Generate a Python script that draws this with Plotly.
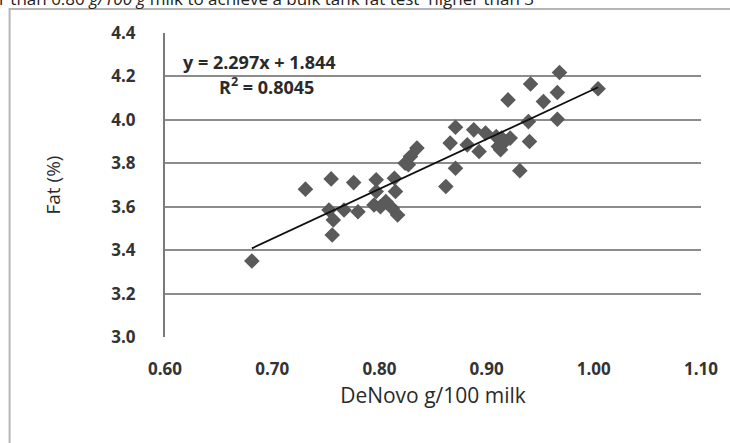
import numpy as np
import plotly.graph_objects as go

# Data
denovo = [0.681, 0.731, 0.755, 0.776, 0.753, 0.757, 0.756, 0.767, 0.780,
          0.797, 0.797, 0.795, 0.814, 0.815, 0.806, 0.812, 0.817, 0.801,
          0.827, 0.835, 0.829, 0.824, 0.871, 0.888, 0.866, 0.882, 0.893,
          0.871, 0.862, 0.899, 0.909, 0.968, 1.004, 0.941, 0.966, 0.920,
          0.953, 0.966, 0.939, 0.940, 0.931, 0.914, 0.922, 0.911, 0.917,
          0.913]
fat = [3.350, 3.681, 3.728, 3.711, 3.585, 3.539, 3.470, 3.585, 3.577,
       3.724, 3.670, 3.608, 3.731, 3.670, 3.624, 3.593, 3.562, 3.600,
       3.793, 3.870, 3.831, 3.800, 3.966, 3.954, 3.893, 3.885, 3.854,
       3.777, 3.693, 3.939, 3.923, 4.218, 4.143, 4.165, 4.126, 4.092,
       4.084, 4.003, 3.992, 3.900, 3.766, 3.916, 3.916, 3.877, 3.900,
       3.862]
slope, intercept = 2.297, 1.844
x_ticks = [0.60, 0.70, 0.80, 0.90, 1.00, 1.10]
y_ticks = [3.0, 3.2, 3.4, 3.6, 3.8, 4.0, 4.2, 4.4]

W, H = 730, 443
ml, mr, mt, mb = 165, 27, 33, 106
pw, ph = W - ml - mr, H - mt - mb

def px_x(p):
    return (p - ml) / pw

def px_y(p):
    return (H - mb - p) / ph

fig = go.Figure()
fig.add_trace(go.Scatter(
    x=denovo, y=fat, mode="markers",
    marker=dict(symbol="diamond", size=12, color="#5a5a5a",
                line=dict(width=0)),
    showlegend=False, hoverinfo="skip"))

tx = np.array([min(denovo), max(denovo)])
fig.add_trace(go.Scatter(
    x=tx, y=slope * tx + intercept, mode="lines",
    line=dict(color="#111111", width=1.8),
    showlegend=False, hoverinfo="skip"))

tick_font = dict(family="Open Sans", size=17, color="#333333", weight="bold")

fig.update_layout(
    width=W, height=H,
    margin=dict(l=ml, r=mr, t=mt, b=mb),
    paper_bgcolor="white", plot_bgcolor="white",
    xaxis=dict(range=[0.6, 1.1], tickvals=x_ticks,
               ticktext=[f"{v:.2f}" for v in x_ticks],
               showgrid=False, zeroline=False, showline=False,
               ticks="", tickfont=tick_font, ticklabelstandoff=20,
               title=dict(text="DeNovo g/100 milk",
                          font=dict(family="Open Sans", size=21, color="#2a2a2a"),
                          standoff=9)),
    yaxis=dict(range=[3.0, 4.4], tickvals=y_ticks,
               ticktext=[f"{v:.1f}" for v in y_ticks],
               showgrid=True, gridcolor="#8c8c8c", gridwidth=2,
               zeroline=False, showline=True, linecolor="#7a7a7a",
               linewidth=2, ticks="", tickfont=tick_font,
               ticklabelstandoff=24,
               title=dict(text="Fat (%)",
                          font=dict(family="Open Sans", size=19, color="#2a2a2a"),
                          standoff=46)),
)

fig.add_annotation(xref="paper", yref="paper", x=px_x(181), y=px_y(62),
                   xanchor="left", yanchor="middle", showarrow=False,
                   text="y = 2.297x + 1.844",
                   font=dict(family="Open Sans", size=18, color="#2a2a2a",
                             weight="bold"))
fig.add_annotation(xref="paper", yref="paper", x=px_x(217), y=px_y(86),
                   xanchor="left", yanchor="middle", showarrow=False,
                   text="R<sup>2</sup> = 0.8045",
                   font=dict(family="Open Sans", size=18, color="#2a2a2a",
                             weight="bold"))

# partially visible caption text at the top edge
fig.add_annotation(xref="paper", yref="paper", x=px_x(-4), y=px_y(-1),
                   xanchor="left", yanchor="middle", showarrow=False,
                   text="r than 0.80 <i>g/100 g</i> milk to achieve a bulk tank fat test  higher than 3",
                   font=dict(family="Open Sans", size=17, color="#222"))

# chart area border
fig.add_shape(type="rect", xref="paper", yref="paper",
              x0=px_x(9), y0=px_y(460), x1=px_x(760), y1=px_y(9),
              line=dict(color="#b5b5b5", width=2), fillcolor="rgba(0,0,0,0)",
              layer="below")

fig.write_html("out.html")
